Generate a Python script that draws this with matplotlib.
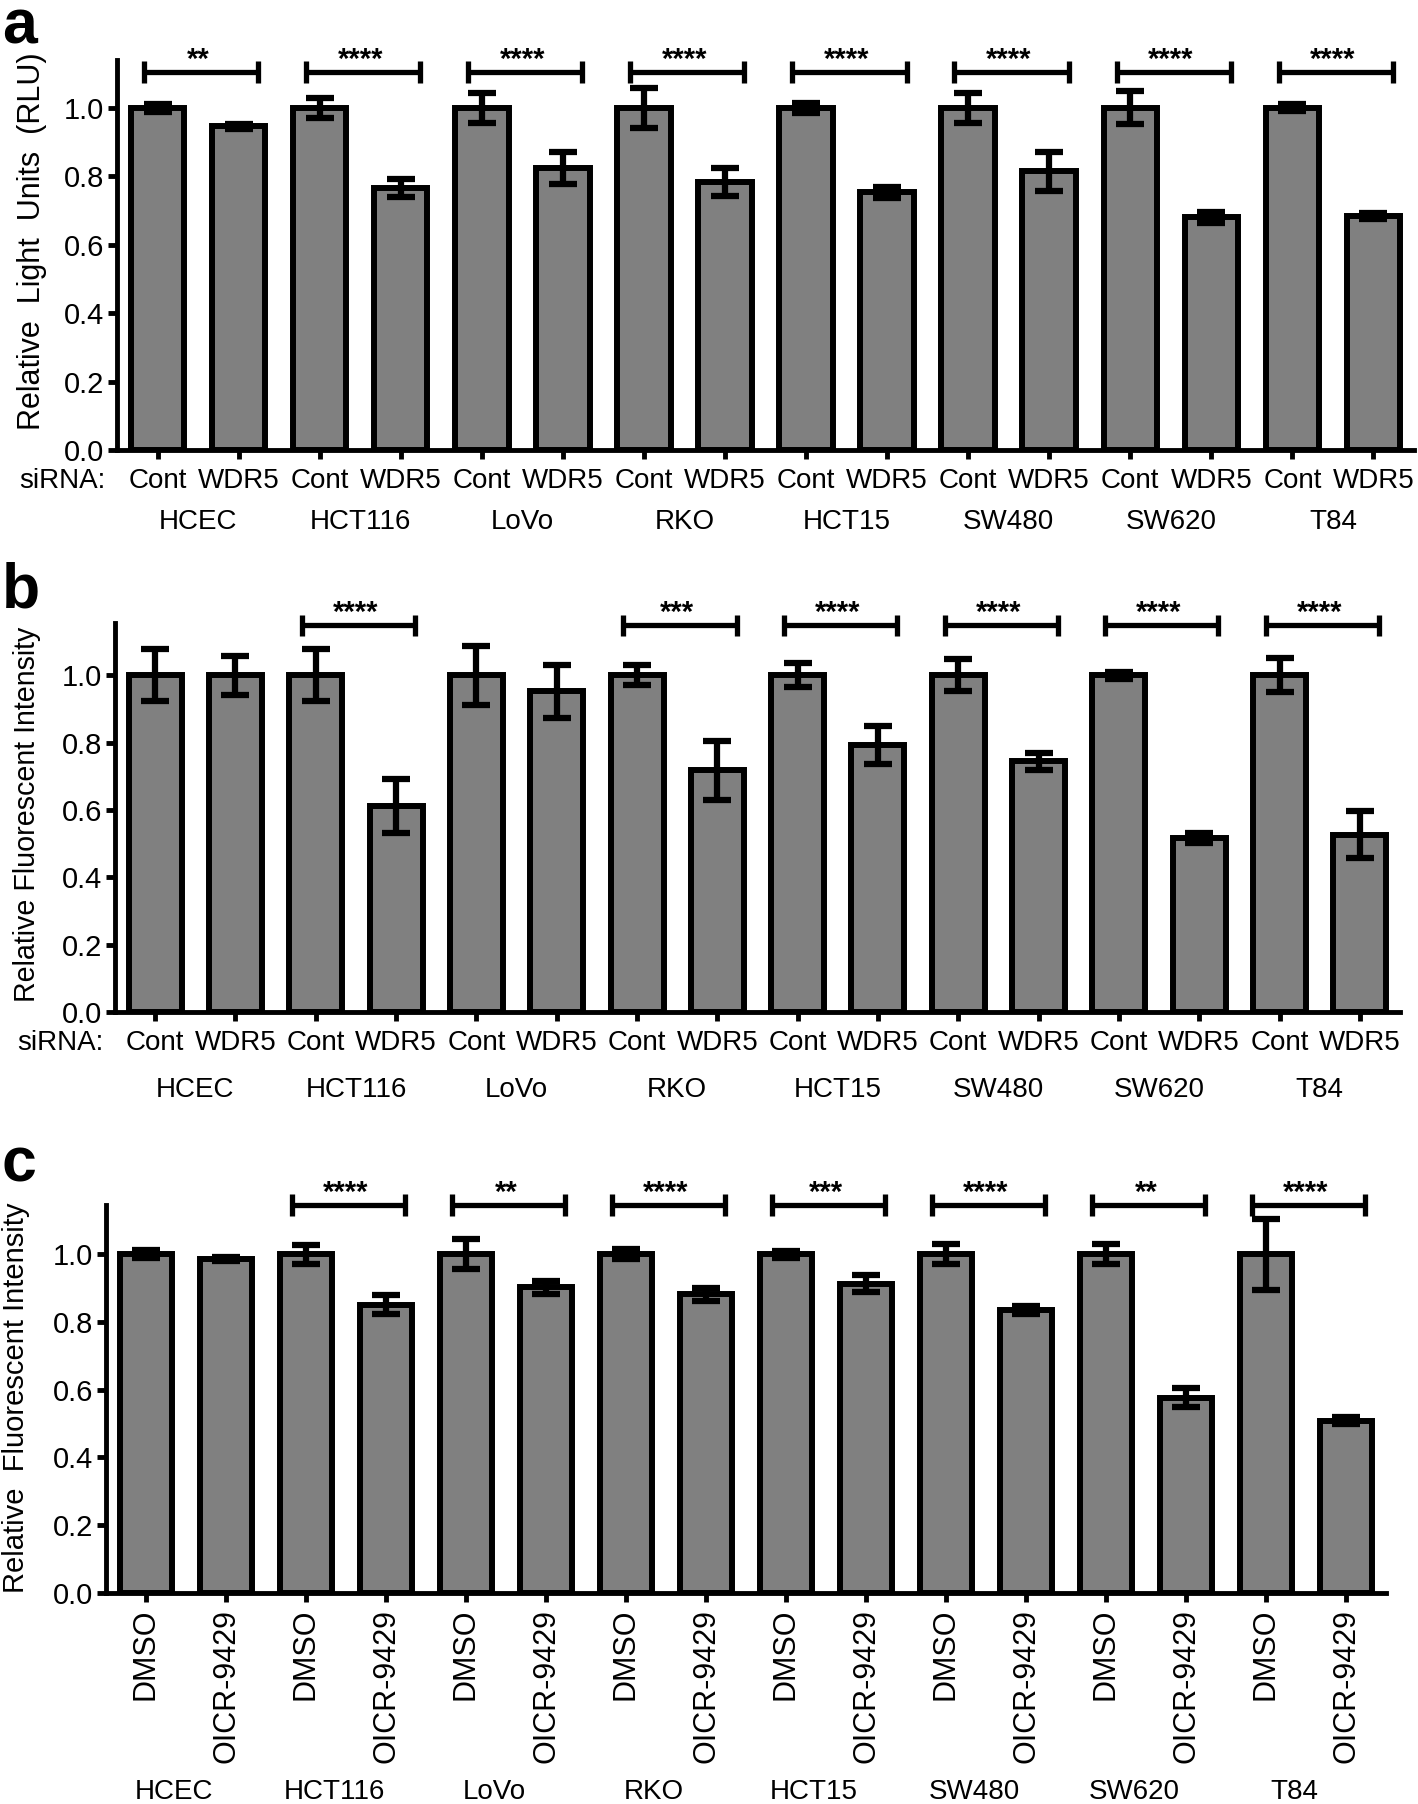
import numpy as np
import matplotlib
matplotlib.use('Agg')
import matplotlib.pyplot as plt

plt.rcParams['font.family'] = ['Liberation Sans', 'DejaVu Sans']

cell_lines = ['HCEC', 'HCT116', 'LoVo', 'RKO', 'HCT15', 'SW480', 'SW620', 'T84']

# a: luciferase, siRNA Cont vs WDR5
a_ctrl = [1.0, 1.0, 1.0, 1.0, 1.0, 1.0, 1.0, 1.0]
a_ctrl_err = [0.012, 0.03, 0.045, 0.058, 0.015, 0.045, 0.048, 0.01]
a_trt = [0.946, 0.766, 0.825, 0.783, 0.753, 0.815, 0.681, 0.684]
a_trt_err = [0.007, 0.025, 0.047, 0.04, 0.015, 0.057, 0.016, 0.008]
a_stars = ['**', '****', '****', '****', '****', '****', '****', '****']

# b: fluorescence, siRNA Cont vs WDR5
b_ctrl = [1.0, 1.0, 1.0, 1.0, 1.0, 1.0, 1.0, 1.0]
b_ctrl_err = [0.078, 0.078, 0.088, 0.03, 0.035, 0.048, 0.01, 0.05]
b_trt = [1.0, 0.612, 0.952, 0.718, 0.793, 0.745, 0.517, 0.527]
b_trt_err = [0.058, 0.08, 0.078, 0.088, 0.056, 0.025, 0.015, 0.07]
b_stars = [None, '****', None, '***', '****', '****', '****', '****']

# c: fluorescence, DMSO vs OICR-9429
c_ctrl = [1.0, 1.0, 1.0, 1.0, 1.0, 1.0, 1.0, 1.0]
c_ctrl_err = [0.012, 0.028, 0.045, 0.015, 0.01, 0.03, 0.03, 0.105]
c_trt = [0.987, 0.851, 0.902, 0.881, 0.912, 0.834, 0.576, 0.508]
c_trt_err = [0.006, 0.028, 0.02, 0.02, 0.025, 0.012, 0.028, 0.01]
c_stars = [None, '****', '**', '****', '***', '****', '**', '****']

W, H = 1418, 1804
fig = plt.figure(figsize=(W / 100, H / 100), dpi=100)


def add_axes(left, right, top, bottom):
    return fig.add_axes([left / W, 1 - bottom / H, (right - left) / W, (bottom - top) / H])


def draw(ax, ctrl, ctrl_err, trt, trt_err, stars, ticknames, ytop, br_y):
    vals, errs = [], []
    for c, ce, t, te in zip(ctrl, ctrl_err, trt, trt_err):
        vals += [c, t]
        errs += [ce, te]
    x = np.arange(len(vals))
    ax.bar(x, vals, width=0.66, color='#808080', edgecolor='black', linewidth=4.3, zorder=2)
    ax.errorbar(x, vals, yerr=errs, fmt='none', ecolor='black', elinewidth=4.5,
                capsize=10, capthick=4.5, zorder=3)
    ax.set_xlim(-0.5, len(vals) - 0.5)
    ax.set_ylim(0, ytop)
    ax.set_yticks(np.arange(0, 1.01, 0.2))
    ax.set_yticklabels(['%.1f' % v for v in np.arange(0, 1.01, 0.2)], fontsize=21)
    ax.set_xticks(x)
    ax.set_xticklabels(ticknames * len(ctrl), fontsize=20)
    for s in ['top', 'right']:
        ax.spines[s].set_visible(False)
    for s in ['left', 'bottom']:
        ax.spines[s].set_linewidth(3.5)
    ax.tick_params(width=3.5, length=6.5, pad=3)
    ax.tick_params(axis='x', pad=6.5)
    for i, st in enumerate(stars):
        if st is None:
            continue
        x0, x1 = 2 * i - 0.17, 2 * i + 1.24
        ax.plot([x0, x1], [br_y, br_y], color='black', lw=3.8, clip_on=False, solid_capstyle='butt')
        for xx in (x0, x1):
            ax.plot([xx, xx], [br_y - 0.032, br_y + 0.032], color='black', lw=3.8,
                    clip_on=False, solid_capstyle='butt')
        ax.annotate(st, xy=(2 * i + 0.5, br_y), xytext=(0, 3), textcoords='offset points',
                    ha='center', va='baseline', fontsize=21, fontweight='bold', annotation_clip=False)
    return ax


# panel a
ax_a = add_axes(117, 1414, 60, 450)
draw(ax_a, a_ctrl, a_ctrl_err, a_trt, a_trt_err, a_stars, ['Cont', 'WDR5'], 1.14, 1.105)
ax_a.text(-0.0655, 0.535, 'Relative  Light  Units  (RLU)', transform=ax_a.transAxes,
          rotation=90, ha='center', va='center', fontsize=22)
ax_a.annotate('siRNA:', xy=(-0.64, 0), xycoords=('data', 'axes fraction'), xytext=(0, -13),
              textcoords='offset points', ha='right', va='top', fontsize=20, annotation_clip=False)
for i, name in enumerate(cell_lines):
    ax_a.annotate(name, xy=(2 * i + 0.5, 0), xycoords=('data', 'axes fraction'), xytext=(0, -42.5),
                  textcoords='offset points', ha='center', va='top', fontsize=20, annotation_clip=False)

# panel b
ax_b = add_axes(115, 1400, 623, 1012)
draw(ax_b, b_ctrl, b_ctrl_err, b_trt, b_trt_err, b_stars, ['Cont', 'WDR5'], 1.155, 1.148)
ax_b.text(-0.0685, 0.509, 'Relative Fluorescent Intensity', transform=ax_b.transAxes,
          rotation=90, ha='center', va='center', fontsize=20.6)
ax_b.annotate('siRNA:', xy=(-0.64, 0), xycoords=('data', 'axes fraction'), xytext=(0, -13),
              textcoords='offset points', ha='right', va='top', fontsize=20, annotation_clip=False)
for i, name in enumerate(cell_lines):
    ax_b.annotate(name, xy=(2 * i + 0.5, 0), xycoords=('data', 'axes fraction'), xytext=(0, -47),
                  textcoords='offset points', ha='center', va='top', fontsize=20, annotation_clip=False)

# panel c
ax_c = add_axes(106, 1386, 1205, 1593)
draw(ax_c, c_ctrl, c_ctrl_err, c_trt, c_trt_err, c_stars, ['DMSO', 'OICR-9429'], 1.145, 1.145)
for lab in ax_c.get_xticklabels():
    lab.set_rotation(90)
    lab.set_fontsize(22)
ax_c.tick_params(axis='x', pad=5)
ax_c.text(-0.0703, 0.503, 'Relative  Fluorescent Intensity', transform=ax_c.transAxes,
          rotation=90, ha='center', va='center', fontsize=21)
for i, name in enumerate(cell_lines):
    ax_c.annotate(name, xy=(2 * i + 0.35, 0), xycoords=('data', 'axes fraction'), xytext=(0, -134),
                  textcoords='offset points', ha='center', va='top', fontsize=20, annotation_clip=False)

# panel letters
fig.text(2 / W, 1 - 43 / H, 'a', fontsize=45, fontweight='bold', ha='left', va='baseline')
fig.text(2 / W, 1 - 608 / H, 'b', fontsize=45, fontweight='bold', ha='left', va='baseline')
fig.text(2 / W, 1 - 1181 / H, 'c', fontsize=45, fontweight='bold', ha='left', va='baseline')

fig.savefig('out.png', dpi=100)
